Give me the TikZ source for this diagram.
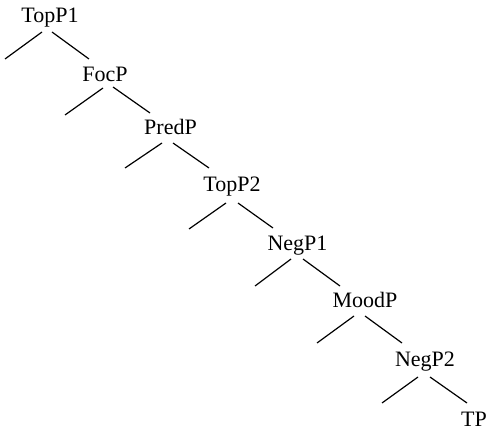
\documentclass[tikz,border=0pt]{standalone}
\usepackage{fontspec}
\setmainfont{Liberation Serif}
\begin{document}
\begin{tikzpicture}[x=1pt,y=-1pt,
  lbl/.style={anchor=base, inner sep=0pt, font=\fontsize{22}{26}\selectfont},
  branch/.style={line width=1.2pt, line cap=butt}]
\useasboundingbox (0,0) rectangle (489,430);
% labels
\node[lbl] (topp1) at (50,23)    {TopP1};
\node[lbl] (focp)  at (105,82)   {FocP};
\node[lbl] (predp) at (170.5,135){PredP};
\node[lbl] (topp2) at (232,192)  {TopP2};
\node[lbl] (negp1) at (297.5,250){NegP1};
\node[lbl] (moodp) at (365,307)  {MoodP};
\node[lbl] (negp2) at (425,366)  {NegP2};
\node[lbl, text depth=0pt] (tp) at (474,426) {TP};
% branch points (left / right start) below each label
\coordinate (topp1L) at (42,32);   \coordinate (topp1R) at (52,32);
\coordinate (focpL)  at (103,88);  \coordinate (focpR)  at (113,87);
\coordinate (predpL) at (162,143); \coordinate (predpR) at (173,143);
\coordinate (topp2L) at (226,203); \coordinate (topp2R) at (238,203);
\coordinate (negp1L) at (291,259); \coordinate (negp1R) at (303,259);
\coordinate (moodpL) at (354,316); \coordinate (moodpR) at (365,316);
\coordinate (negp2L) at (418,377); \coordinate (negp2R) at (430,377);
% free ends of the left branches
\coordinate (topp1E) at (5,59);
\coordinate (focpE)  at (65,115);
\coordinate (predpE) at (125,168);
\coordinate (topp2E) at (189,229);
\coordinate (negp1E) at (255,286);
\coordinate (moodpE) at (317,343);
\coordinate (negp2E) at (382,403);
% ends of the right branches, just above each child label
\coordinate (focpT)  at (89,59);
\coordinate (predpT) at (150,113);
\coordinate (topp2T) at (209,168);
\coordinate (negp1T) at (273,228);
\coordinate (moodpT) at (340,286);
\coordinate (negp2T) at (402,343);
\coordinate (tpT)    at (467,403);
% left branches
\foreach \n in {topp1,focp,predp,topp2,negp1,moodp,negp2}
  \draw[branch] (\n L) -- (\n E);
% right branches
\draw[branch] (topp1R) -- (focpT);
\draw[branch] (focpR)  -- (predpT);
\draw[branch] (predpR) -- (topp2T);
\draw[branch] (topp2R) -- (negp1T);
\draw[branch] (negp1R) -- (moodpT);
\draw[branch] (moodpR) -- (negp2T);
\draw[branch] (negp2R) -- (tpT);
\end{tikzpicture}
\end{document}
